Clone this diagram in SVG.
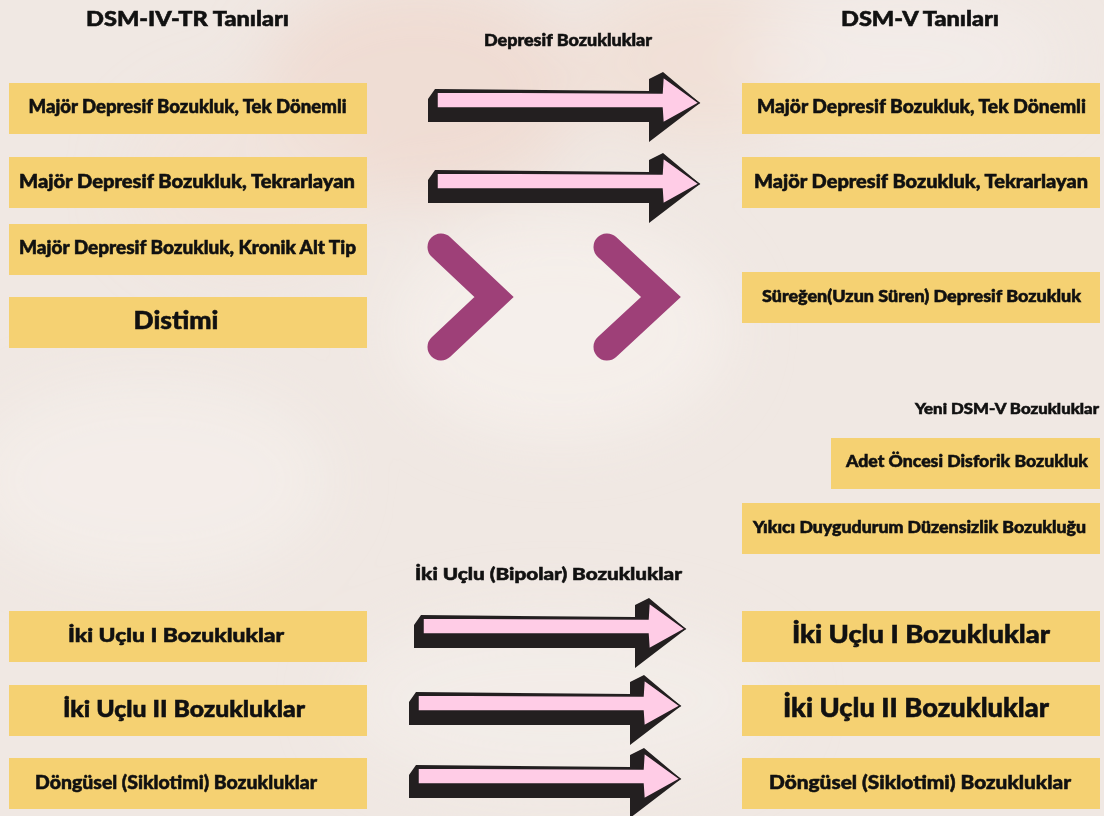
<svg xmlns="http://www.w3.org/2000/svg" xmlns:xlink="http://www.w3.org/1999/xlink" width="1104" height="816" viewBox="0 0 1104 816">
  <defs>
    <style>
      .box { fill: #F5D172; }
      .t { font-family: "Lato", "Liberation Sans", sans-serif; font-weight: 900; fill: #111111; stroke: #111111; stroke-width: 0.55; text-anchor: middle; }
      .chev { fill: none; stroke: #9E4078; stroke-width: 27; stroke-linecap: round; stroke-linejoin: miter; }
      .apink { fill: #FFCCE6; stroke: #231F20; stroke-width: 1.5; stroke-linejoin: miter; }
      .ablack { fill: #231F20; }
    </style>
    <filter id="blur" x="-50%" y="-50%" width="200%" height="200%">
      <feGaussianBlur stdDeviation="30"/>
    </filter>
    <g id="arrow">
      <path class="ablack" d="M-2,-3 L-9,7 L-9,30 L212,30 L212,50 L263,11 L226,-20 L212,-13 L212,-1 Z"/>
      <path class="apink" d="M0,0 L225,1 L226,-15 L262,11 L226,31 L225,16 L0,16 Z"/>
    </g>
  </defs>

  <!-- background -->
  <rect x="0" y="0" width="1104" height="816" fill="#F0E8E3"/>
  <g filter="url(#blur)">
    <ellipse cx="420" cy="90" rx="160" ry="110" fill="#EFDAD0" opacity="0.8"/>
    <ellipse cx="700" cy="60" rx="120" ry="80" fill="#F1DDD2" opacity="0.7"/>
    <ellipse cx="250" cy="180" rx="120" ry="90" fill="#F2E2DA" opacity="0.6"/>
    <ellipse cx="560" cy="330" rx="170" ry="110" fill="#F6F0EC" opacity="0.8"/>
    <ellipse cx="150" cy="480" rx="180" ry="100" fill="#F5EFEB" opacity="0.7"/>
    <ellipse cx="560" cy="700" rx="220" ry="90" fill="#F4EEEA" opacity="0.7"/>
    <ellipse cx="900" cy="60" rx="160" ry="70" fill="#F3EDEA" opacity="0.7"/>
  </g>

  <!-- headings -->
  <g id="headings">
    <text class="t" x="187.5" y="26" font-size="20" textLength="203" lengthAdjust="spacingAndGlyphs">DSM-IV-TR Tanıları</text>
    <text class="t" x="920" y="26" font-size="20" textLength="158" lengthAdjust="spacingAndGlyphs">DSM-V Tanıları</text>
    <text class="t" x="568" y="46" font-size="16" textLength="168" lengthAdjust="spacingAndGlyphs">Depresif Bozukluklar</text>
    <text class="t" x="1099" y="414" font-size="15" style="text-anchor:end" textLength="184" lengthAdjust="spacingAndGlyphs">Yeni DSM-V Bozukluklar</text>
    <text class="t" x="548.5" y="580" font-size="17" textLength="267" lengthAdjust="spacingAndGlyphs">İki Uçlu (Bipolar) Bozukluklar</text>
  </g>

  <!-- left nodes -->
  <g id="l1"><rect class="box" x="9" y="83" width="358" height="51"/>
    <text class="t" x="187.5" y="113" font-size="18" textLength="318" lengthAdjust="spacingAndGlyphs">Majör Depresif Bozukluk, Tek Dönemli</text></g>
  <g id="l2"><rect class="box" x="9" y="157" width="358" height="51"/>
    <text class="t" x="187" y="188" font-size="18" textLength="336" lengthAdjust="spacingAndGlyphs">Majör Depresif Bozukluk, Tekrarlayan</text></g>
  <g id="l3"><rect class="box" x="9" y="224" width="358" height="51"/>
    <text class="t" x="187.5" y="254" font-size="18" textLength="337" lengthAdjust="spacingAndGlyphs">Majör Depresif Bozukluk, Kronik Alt Tip</text></g>
  <g id="l4"><rect class="box" x="9" y="297" width="358" height="51"/>
    <text class="t" x="176" y="329" font-size="25" textLength="85" lengthAdjust="spacingAndGlyphs">Distimi</text></g>
  <g id="l5"><rect class="box" x="9" y="611" width="358" height="51"/>
    <text class="t" x="176" y="642" font-size="19.5" textLength="216" lengthAdjust="spacingAndGlyphs">İki Uçlu I Bozukluklar</text></g>
  <g id="l6"><rect class="box" x="9" y="685" width="358" height="51"/>
    <text class="t" x="184" y="717" font-size="23" textLength="242" lengthAdjust="spacingAndGlyphs">İki Uçlu II Bozukluklar</text></g>
  <g id="l7"><rect class="box" x="9" y="758" width="358" height="51"/>
    <text class="t" x="176" y="789" font-size="19" textLength="282" lengthAdjust="spacingAndGlyphs">Döngüsel (Siklotimi) Bozukluklar</text></g>

  <!-- right nodes -->
  <g id="r1"><rect class="box" x="742" y="83" width="358" height="51"/>
    <text class="t" x="921.5" y="113" font-size="18.5" textLength="329" lengthAdjust="spacingAndGlyphs">Majör Depresif Bozukluk, Tek Dönemli</text></g>
  <g id="r2"><rect class="box" x="742" y="157" width="358" height="51"/>
    <text class="t" x="921" y="188" font-size="18" textLength="334" lengthAdjust="spacingAndGlyphs">Majör Depresif Bozukluk, Tekrarlayan</text></g>
  <g id="r3"><rect class="box" x="742" y="272" width="358" height="51"/>
    <text class="t" x="921.5" y="302" font-size="16" textLength="319" lengthAdjust="spacingAndGlyphs">Süreğen(Uzun Süren) Depresif Bozukluk</text></g>
  <g id="r4"><rect class="box" x="831" y="438" width="269" height="51"/>
    <text class="t" x="967" y="467" font-size="17" textLength="242" lengthAdjust="spacingAndGlyphs">Adet Öncesi Disforik Bozukluk</text></g>
  <g id="r5"><rect class="box" x="742" y="503" width="358" height="51"/>
    <text class="t" x="919.5" y="533" font-size="16" textLength="333" lengthAdjust="spacingAndGlyphs">Yıkıcı Duygudurum Düzensizlik Bozukluğu</text></g>
  <g id="r6"><rect class="box" x="742" y="611" width="358" height="51"/>
    <text class="t" x="921" y="643" font-size="25" textLength="258" lengthAdjust="spacingAndGlyphs">İki Uçlu I Bozukluklar</text></g>
  <g id="r7"><rect class="box" x="742" y="685" width="358" height="51"/>
    <text class="t" x="916" y="717" font-size="26" textLength="266" lengthAdjust="spacingAndGlyphs">İki Uçlu II Bozukluklar</text></g>
  <g id="r8"><rect class="box" x="742" y="758" width="358" height="51"/>
    <text class="t" x="920" y="789" font-size="19" textLength="302" lengthAdjust="spacingAndGlyphs">Döngüsel (Siklotimi) Bozukluklar</text></g>

  <!-- connectors -->
  <g id="connectors">
    <use xlink:href="#arrow" href="#arrow" x="437" y="92"/>
    <use xlink:href="#arrow" href="#arrow" x="437" y="173"/>
    <polyline class="chev" points="441,247 494,297 441,347"/>
    <polyline class="chev" points="607,247 661,297 607,347"/>
    <use xlink:href="#arrow" href="#arrow" x="423" y="618"/>
    <use xlink:href="#arrow" href="#arrow" x="418" y="695"/>
    <use xlink:href="#arrow" href="#arrow" x="418" y="768"/>
  </g>
</svg>
